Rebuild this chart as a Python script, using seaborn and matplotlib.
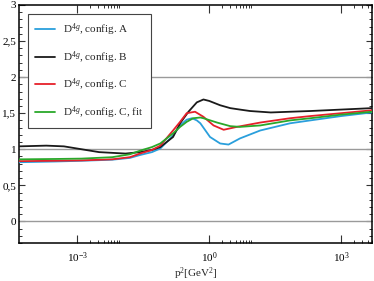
import numpy as np
import pandas as pd
import matplotlib
matplotlib.use("Agg")
import matplotlib.pyplot as plt
import matplotlib.ticker as mticker
import seaborn as sns

# ---- data (log10 of p^2 and values) ----
logx_A = [-4.32, -3.5, -2.9, -2.2, -1.8, -1.57, -1.3, -1.11, -0.82, -0.66, -0.51, -0.39,
          -0.28, -0.2, 0.02, 0.25, 0.44, 0.7, 1.16, 1.84, 2.3, 3.0, 3.7]
val_A = [0.82, 0.83, 0.84, 0.855, 0.88, 0.92, 0.96, 1.01, 1.19, 1.33, 1.41, 1.43,
         1.40, 1.36, 1.17, 1.08, 1.065, 1.15, 1.26, 1.36, 1.40, 1.46, 1.51]

logx_B = [-4.32, -3.7, -3.3, -2.9, -2.5, -2.2, -1.9, -1.57, -1.3, -1.11, -0.82, -0.66,
          -0.47, -0.28, -0.13, 0.0, 0.25, 0.48, 0.7, 0.93, 1.4, 1.84, 2.3, 3.0, 3.7]
val_B = [1.04, 1.05, 1.04, 1.00, 0.96, 0.95, 0.94, 0.96, 0.99, 1.03, 1.17, 1.36,
         1.52, 1.65, 1.69, 1.67, 1.61, 1.57, 1.55, 1.53, 1.51, 1.52, 1.53, 1.55, 1.57]

logx_C = [-4.32, -3.5, -2.9, -2.2, -1.8, -1.57, -1.3, -1.11, -0.82, -0.66, -0.51, -0.32,
          -0.13, 0.1, 0.33, 0.63, 1.16, 1.84, 2.3, 3.0, 3.7]
val_C = [0.835, 0.84, 0.845, 0.86, 0.89, 0.94, 0.99, 1.05, 1.26, 1.38, 1.50, 1.52,
         1.45, 1.33, 1.27, 1.31, 1.37, 1.43, 1.46, 1.50, 1.54]

logx_F = [-4.32, -3.5, -2.9, -2.2, -1.8, -1.57, -1.3, -1.11, -0.82, -0.66, -0.51, -0.36,
          -0.2, -0.13, 0.18, 0.48, 0.7, 1.16, 1.84, 2.3, 3.0, 3.7]
val_F = [0.86, 0.865, 0.87, 0.89, 0.93, 0.98, 1.03, 1.08, 1.22, 1.31, 1.38, 1.43,
         1.44, 1.43, 1.37, 1.32, 1.31, 1.33, 1.40, 1.43, 1.48, 1.52]

labels = [r"D$^{4g}$, config. A", r"D$^{4g}$, config. B",
          r"D$^{4g}$, config. C", r"D$^{4g}$, config. C, fit"]
colors = ["#2a9fdc", "#1a1a1a", "#e6202a", "#2aa82a"]

x_major = [1e-3, 1e0, 1e3]
x_tick_labels = [r"10$^{-3}$", r"10$^{0}$", r"10$^{3}$"]

frames = []
for lx, v, lab in zip([logx_A, logx_B, logx_C, logx_F],
                      [val_A, val_B, val_C, val_F], labels):
    frames.append(pd.DataFrame({"p2": np.power(10.0, lx), "D": v, "series": lab}))
df = pd.concat(frames, ignore_index=True)

# ---- style ----
sns.set_theme(style="ticks")
plt.rcParams["font.family"] = ["Liberation Serif", "DejaVu Serif"]
plt.rcParams["mathtext.fontset"] = "custom"
plt.rcParams["mathtext.rm"] = "Liberation Serif"
plt.rcParams["mathtext.it"] = "Liberation Serif:italic"
plt.rcParams["mathtext.bf"] = "Liberation Serif:bold"

fig = plt.figure(figsize=(3.74, 2.81), dpi=100)
ax = fig.add_axes([19 / 374, 1 - 243 / 281, (372 - 19) / 374, (243 - 5) / 281])

for yv in [0, 1, 2]:
    ax.axhline(yv, color="#9a9a9a", lw=1.0, zorder=1)

sns.lineplot(data=df, x="p2", y="D", hue="series", hue_order=labels,
             palette=colors, estimator=None, sort=False, lw=1.3, ax=ax, zorder=3)

ax.set_xscale("log")
ax.set_xlim(10 ** -4.32, 10 ** 3.7)
ax.set_ylim(-0.3, 3.0)

ax.xaxis.set_major_locator(mticker.FixedLocator(x_major))
ax.xaxis.set_major_formatter(mticker.FixedFormatter(x_tick_labels))
minor = [m * b for b in [1e-3, 1e0, 1e3] for m in range(2, 10)]
ax.xaxis.set_minor_locator(mticker.FixedLocator(minor))
ax.xaxis.set_minor_formatter(mticker.NullFormatter())

ax.yaxis.set_major_locator(mticker.MultipleLocator(0.5))
ax.yaxis.set_minor_locator(mticker.MultipleLocator(0.1))
ax.yaxis.set_major_formatter(mticker.FuncFormatter(
    lambda v, p: ("%g" % v).replace(".", ",")))

ax.tick_params(axis="both", which="both", direction="in", top=True, right=True,
               colors="#333333", labelcolor="black", labelsize=8)
ax.tick_params(axis="x", which="major", length=6, width=0.8, pad=5)
ax.tick_params(axis="x", which="minor", length=2.5, width=0.7)
ax.tick_params(axis="y", which="major", length=4, width=0.8, pad=2)
ax.tick_params(axis="y", which="minor", length=2.3, width=0.7)

for s in ax.spines.values():
    s.set_color("black")
    s.set_linewidth(1.1)

ax.set_xlabel(r"p$^2$[GeV$^2$]", fontsize=8, labelpad=0.5)
ax.set_ylabel("")

leg = ax.legend(loc="upper left", bbox_to_anchor=(0.025, 0.962), fontsize=8,
                frameon=True, fancybox=False, edgecolor="#444444",
                handlelength=1.8, handletextpad=0.75, labelspacing=1.0,
                borderpad=0.65, borderaxespad=0.0)
leg.get_frame().set_linewidth(0.8)
leg.get_frame().set_alpha(1.0)
for h in leg.get_lines():
    h.set_linewidth(1.3)

fig.savefig("out.png", dpi=100)
